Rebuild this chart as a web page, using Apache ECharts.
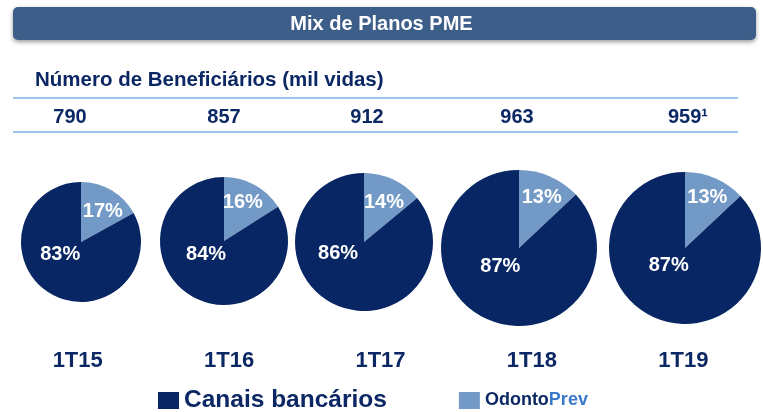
<!DOCTYPE html>
<html>
<head>
<meta charset="utf-8">
<script src="https://cdn.jsdelivr.net/npm/echarts@6/dist/echarts.min.js"></script>
<style>
  html, body { margin: 0; padding: 0; background: #fff; }
  #main { width: 763px; height: 412px; }
</style>
</head>
<body>
<div id="main"></div>
<script>
// dados
const periods = ['1T15', '1T16', '1T17', '1T18', '1T19']
const totals = [790, 857, 912, 963, 959]
const footnotes = ['', '', '', '', '¹']
const odontoPrev = [17, 16, 14, 13, 13]
const canaisBancarios = [83, 84, 86, 87, 87]

// layout
const pieCenters = [[81, 242], [224, 241], [364, 242], [519, 248], [685, 248]]
const pieRadius = [60, 64, 69, 78, 76]
const totalX = [70, 224, 367, 517, 688]
// deslocamento dos rótulos (OdontoPrev / Canais)
const lightOffset = [[5, -2], [2, -8], [4, -6], [6, -12], [6, -13]]
const darkOffset = [[-4, -16], [-1, -17], [-10, -22], [-2, -20], [0, -20]]

const navy = '#082664'
const lightBlue = '#7399c6'
const textColor = '#0c2864'
const lineColor = '#7fb2e4'
const font = 'Liberation Sans, Arial, sans-serif'

const chart = echarts.init(document.getElementById('main'))

const pieSeries = periods.map((p, i) => ({
  type: 'pie',
  name: p,
  center: pieCenters[i],
  radius: pieRadius[i],
  startAngle: 90,
  clockwise: true,
  silent: true,
  label: {
    show: true,
    position: 'inside',
    formatter: '{c}%',
    color: '#fff',
    fontSize: 20,
    fontWeight: 'bold',
    fontFamily: font
  },
  labelLine: { show: false },
  labelLayout: params => {
    const off = params.dataIndex === 0 ? lightOffset[i] : darkOffset[i]
    return { dx: off[0], dy: off[1] }
  },
  itemStyle: { borderWidth: 0 },
  emphasis: { scale: false },
  data: [
    { name: 'OdontoPrev', value: odontoPrev[i], itemStyle: { color: lightBlue } },
    { name: 'Canais bancários', value: canaisBancarios[i], itemStyle: { color: navy } }
  ]
}))

const totalTexts = totals.map((t, i) => ({
  type: 'text',
  x: totalX[i],
  y: 117,
  z: 5,
  style: {
    text: t + footnotes[i],
    align: 'center',
    verticalAlign: 'middle',
    fontSize: 20,
    fontWeight: 'bold',
    fontFamily: font,
    fill: textColor
  }
}))

const option = {
  animation: false,
  title: [{
    text: 'Mix de Planos PME',
    left: 'center',
    top: 14,
    padding: 0,
    textStyle: { color: '#fff', fontSize: 20, fontWeight: 'bold', fontFamily: font }
  }, {
    text: 'Número de Beneficiários (mil vidas)',
    left: 35,
    top: 70,
    padding: 0,
    textStyle: { color: textColor, fontSize: 20.5, fontWeight: 'bold', fontFamily: font }
  }],
  graphic: [{
    type: 'rect',
    z: 0,
    shape: { x: 13, y: 7, width: 743, height: 33, r: 5 },
    style: {
      fill: '#3e5e8a',
      shadowBlur: 4,
      shadowOffsetY: 2,
      shadowColor: 'rgba(0,0,0,0.4)'
    }
  }, {
    type: 'line',
    shape: { x1: 13, y1: 98, x2: 738, y2: 98 },
    style: { stroke: lineColor, lineWidth: 1.5 }
  }, {
    type: 'line',
    shape: { x1: 13, y1: 132, x2: 738, y2: 132 },
    style: { stroke: lineColor, lineWidth: 1.5 }
  }].concat(totalTexts),
  legend: {
    left: 158,
    top: 388,
    padding: 0,
    icon: 'rect',
    itemWidth: 21,
    itemHeight: 17,
    itemGap: 72,
    selectedMode: false,
    data: [
      { name: 'Canais bancários', textStyle: { fontSize: 24.5 } },
      { name: 'OdontoPrev' }
    ],
    formatter: name => name === 'OdontoPrev' ? '{a|Odonto}{b|Prev}' : name,
    textStyle: {
      color: textColor,
      fontWeight: 'bold',
      fontFamily: font,
      rich: {
        a: { color: textColor, fontSize: 18, fontWeight: 'bold', fontFamily: font },
        b: { color: '#3b7ac9', fontSize: 18, fontWeight: 'bold', fontFamily: font }
      }
    }
  },
  grid: { left: 2, right: 4, top: 100, bottom: 67 },
  xAxis: {
    type: 'category',
    data: periods,
    axisLine: { show: false },
    axisTick: { show: false },
    splitLine: { show: false },
    axisLabel: {
      margin: 5,
      fontSize: 22,
      fontWeight: 'bold',
      fontFamily: font,
      color: textColor
    }
  },
  yAxis: { type: 'value', show: false },
  series: pieSeries
}

chart.setOption(option)
</script>
</body>
</html>
